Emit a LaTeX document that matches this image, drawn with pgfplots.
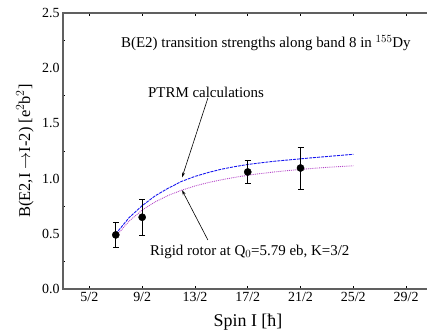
\documentclass[border=0pt]{standalone}
\usepackage{pgfplots}
\pgfplotsset{compat=1.18}
\usepackage{fontspec}
\setmainfont{Liberation Serif}
\usetikzlibrary{arrows.meta}
\definecolor{axgray}{RGB}{96,96,96}
\definecolor{ptrmblue}{RGB}{20,20,240}
\definecolor{rigidmag}{RGB}{180,70,200}
\begin{document}
\begin{tikzpicture}
\useasboundingbox (-63bp,-41bp) rectangle (364bp,289bp);
\begin{axis}[
  scale only axis,
  width=370bp, height=276bp,
  xmin=1.5, xmax=15.52,
  ymin=0, ymax=2.5,
  axis line style={axgray, line width=1.2pt},
  tick align=inside,
  xtick={2.5,4.5,6.5,8.5,10.5,12.5,14.5},
  xticklabels={5/2,9/2,13/2,17/2,21/2,25/2,29/2},
  ytick={0,0.5,1.0,1.5,2.0,2.5},
  minor ytick={0.25,0.75,1.25,1.75,2.25},
  yticklabels={0.0,0.5,1.0,1.5,2.0,2.5},
  major tick length=3bp,
  minor tick length=2.5bp,
  tick style={black, line width=0.6pt},
  y tick style={draw=none},
  minor y tick style={draw=black},
  tick label style={font=\fontsize{14}{16}\selectfont},
  /pgf/number format/assume math mode=true,
  xlabel={Spin I [ħ]},
  ylabel={B(E2,I $\rightarrow$I-2) [e$^2$b$^2$]},
  label style={font=\fontsize{18}{21}\selectfont},
  xlabel style={at={(axis description cs:0.5,0)}, anchor=center, yshift=-33bp},
  ylabel style={at={(axis description cs:0,0.5)}, anchor=center, yshift=38bp, font=\fontsize{16.5}{20}\selectfont},
  clip=false,
]
% rigid rotor
\addplot[rigidmag, densely dotted, line width=0.9pt] coordinates {
(3.5,0.476) (4,0.614) (4.5,0.715) (5,0.790) (5.5,0.849) (6,0.895)
(6.5,0.933) (7,0.964) (7.5,0.989) (8,1.011) (8.5,1.030) (9,1.046)
(9.5,1.060) (10,1.072) (10.5,1.083) (11,1.093) (11.5,1.102) (12,1.109) (12.5,1.116)};
% PTRM
\addplot[ptrmblue, dash pattern=on 3pt off 1pt, line width=0.9pt] coordinates {
(3.5,0.50) (4,0.645) (4.5,0.755) (5,0.845) (5.5,0.915) (6,0.975)
(6.5,1.02) (7,1.055) (7.5,1.085) (8,1.108) (8.5,1.128) (9,1.143)
(9.5,1.157) (10,1.168) (10.5,1.179) (11,1.190) (11.5,1.200) (12,1.210) (12.5,1.220)};
% experiment
\addplot[only marks, mark=*, mark size=3.6bp, black,
  error bars/.cd, y dir=both, y explicit,
  error bar style={black, line width=0.8pt},
  error mark options={rotate=90, mark size=3bp, black, line width=0.8pt}]
  coordinates {
  (3.5,0.49) +- (0,0.115)
  (4.5,0.65) +- (0,0.165)
  (8.5,1.06) +- (0,0.108)
  (10.5,1.096) +- (0,0.19)
};
\node[font=\fontsize{15}{18}\selectfont] at (axis cs:9.19,2.23) {B(E2) transition strengths along band 8 in $^{155}$Dy};
\node[font=\fontsize{15}{18}\selectfont] at (axis cs:6.92,1.784) {PTRM calculations};
\draw[-{Stealth[length=5pt,width=3pt]}, line width=0.6pt] (axis cs:6.99,1.73) -- (axis cs:6.01,1.01);
\node[font=\fontsize{15}{18}\selectfont] at (axis cs:8.58,0.34) {Rigid rotor at Q$_0$=5.79 eb, K=3/2};
\draw[-{Stealth[length=5pt,width=3pt]}, line width=0.6pt] (axis cs:6.99,0.444) -- (axis cs:6.01,0.895);
\end{axis}
\end{tikzpicture}
\end{document}
